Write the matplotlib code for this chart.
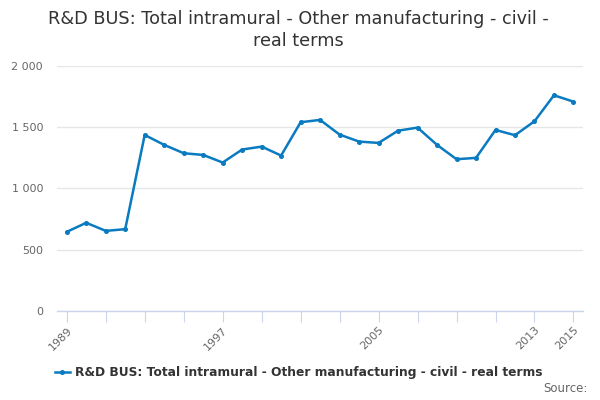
import matplotlib
matplotlib.use("Agg")
import matplotlib.pyplot as plt
from matplotlib.ticker import FuncFormatter, FixedLocator

years = list(range(1989, 2016))
values = [646, 720, 654, 668, 1437, 1356, 1288, 1274, 1212, 1318, 1342, 1269,
          1541, 1560, 1440, 1383, 1372, 1472, 1497, 1356, 1239, 1250, 1478,
          1435, 1549, 1761, 1709]
series_name = "R&D BUS: Total intramural - Other manufacturing - civil - real terms"
title = "R&D BUS: Total intramural - Other manufacturing - civil -\nreal terms"
labelled_years = [1989, 1997, 2005, 2013, 2015]
tick_years = list(range(1989, 2016, 2))
y_ticks = [0, 500, 1000, 1500, 2000]

plt.rcParams['font.family'] = ['DejaVu Sans']
fig = plt.figure(figsize=(6, 4), dpi=100)
ax = fig.add_axes([0.095, 0.2225, 0.877, 0.6125])

line_color = "#0a7bc1"
ax.plot(years, values, color=line_color, linewidth=1.8, marker='o', markersize=2.6,
        label=series_name)

ax.set_xlim(1988.5, 2015.5)
ax.set_ylim(0, 2000)
ax.set_yticks(y_ticks)
ax.yaxis.set_major_formatter(FuncFormatter(lambda v, p: f"{int(v):,}".replace(",", " ")))
ax.grid(axis='y', color='#e6e6e6', linewidth=1)
ax.set_axisbelow(True)

ax.xaxis.set_major_locator(FixedLocator(tick_years))
ax.set_xticklabels([str(y) if y in labelled_years else "" for y in tick_years],
                   rotation=45, ha='right', rotation_mode='anchor')
ax.tick_params(axis='x', length=8, color='#ccd6eb', labelsize=8, labelcolor='#666666', pad=2)
ax.tick_params(axis='y', length=0, labelsize=8, labelcolor='#666666', pad=10)

for s in ['top', 'right', 'left']:
    ax.spines[s].set_visible(False)
ax.spines['bottom'].set_color('#ccd6eb')
ax.spines['bottom'].set_linewidth(1)

fig.text(0.498, 0.975, title, ha='center', va='top', fontsize=12.7, color='#333333',
         linespacing=1.3)

leg = fig.legend(loc='center', bbox_to_anchor=(0.498, 0.068), frameon=False,
                 prop={'weight': 'bold', 'size': 8.85}, handlelength=1.2, handletextpad=0.45)
for t in leg.get_texts():
    t.set_color('#333333')

fig.text(0.98, 0.012, "Source:", ha='right', va='bottom', fontsize=8.5, color='#666666')

fig.savefig("out.png", dpi=100, facecolor='white')
